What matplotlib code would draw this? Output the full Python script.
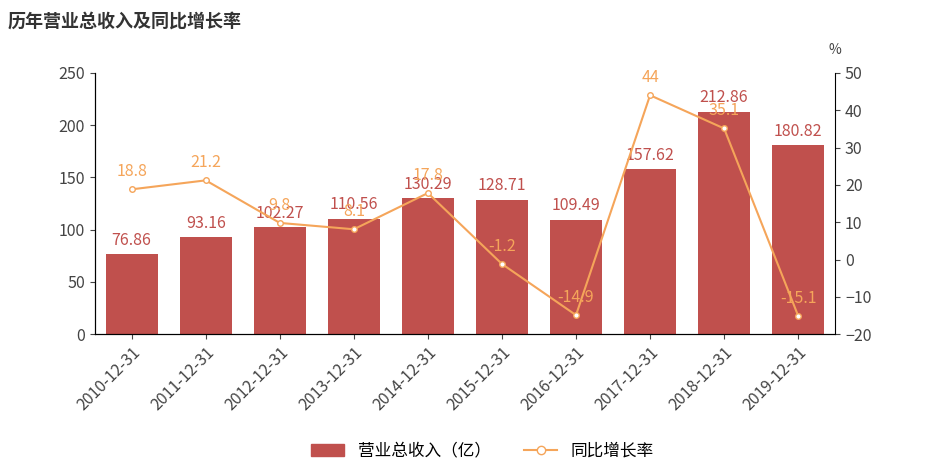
import matplotlib
matplotlib.use("Agg")
import matplotlib.pyplot as plt

plt.rcParams['font.family'] = ['Noto Sans CJK SC', 'DejaVu Sans']

dates = ["2010-12-31","2011-12-31","2012-12-31","2013-12-31","2014-12-31",
         "2015-12-31","2016-12-31","2017-12-31","2018-12-31","2019-12-31"]
revenue = [76.86, 93.16, 102.27, 110.56, 130.29, 128.71, 109.49, 157.62, 212.86, 180.82]
growth = [18.8, 21.2, 9.8, 8.1, 17.8, -1.2, -14.9, 44, 35.1, -15.1]
growth_labels = ["18.8","21.2","9.8","8.1","17.8","-1.2","-14.9","44","35.1","-15.1"]

bar_c = "#c0504d"
line_c = "#f5a55a"
axis_c = "#444444"

fig = plt.figure(figsize=(9.28, 4.70), dpi=100)
ax = fig.add_axes([0.102, 0.289, 0.798, 0.556])
x = range(len(dates))
ax.bar(x, revenue, width=0.7, color=bar_c)
ax.set_ylim(0, 250)
ax.set_yticks(range(0, 251, 50))
ax.set_xlim(-0.5, len(dates) - 0.5)
ax.set_xticks(list(x))
ax.set_xticklabels(dates, rotation=45, ha="right", rotation_mode="anchor", fontsize=13, color=axis_c)
for i, v in enumerate(revenue):
    ax.text(i, v + 5, f"{v:.2f}", ha="center", va="bottom", color=bar_c, fontsize=11.5)
for s in ["top", "right"]:
    ax.spines[s].set_visible(False)
ax.tick_params(colors=axis_c, labelsize=11.5)

ax2 = ax.twinx()
ax2.plot(list(x), growth, color=line_c, marker="o", markersize=4, markerfacecolor="white", lw=1.5)
ax2.set_ylim(-20, 50)
ax2.set_yticks(range(-20, 51, 10))
for i, (g, lab) in enumerate(zip(growth, growth_labels)):
    ax2.text(i, g + 2.5, lab, ha="center", va="bottom", color=line_c, fontsize=11.5)
ax2.spines["top"].set_visible(False)
ax2.tick_params(colors=axis_c, labelsize=11.5)
ax2.text(1.0, 1.06, "%", transform=ax2.transAxes, ha="center", va="bottom", fontsize=10, color=axis_c)

fig.text(0.008, 0.975, "历年营业总收入及同比增长率", fontsize=13, fontweight="bold", va="top", color="#333333")

from matplotlib.patches import Patch
from matplotlib.lines import Line2D
handles = [Patch(color=bar_c, label="营业总收入（亿）"),
           Line2D([0], [0], color=line_c, marker="o", markerfacecolor="white", label="同比增长率")]
fig.legend(handles=handles, loc="lower center", bbox_to_anchor=(0.52, -0.01), ncol=2, frameon=False, fontsize=12)

fig.savefig("out.png", dpi=100)
